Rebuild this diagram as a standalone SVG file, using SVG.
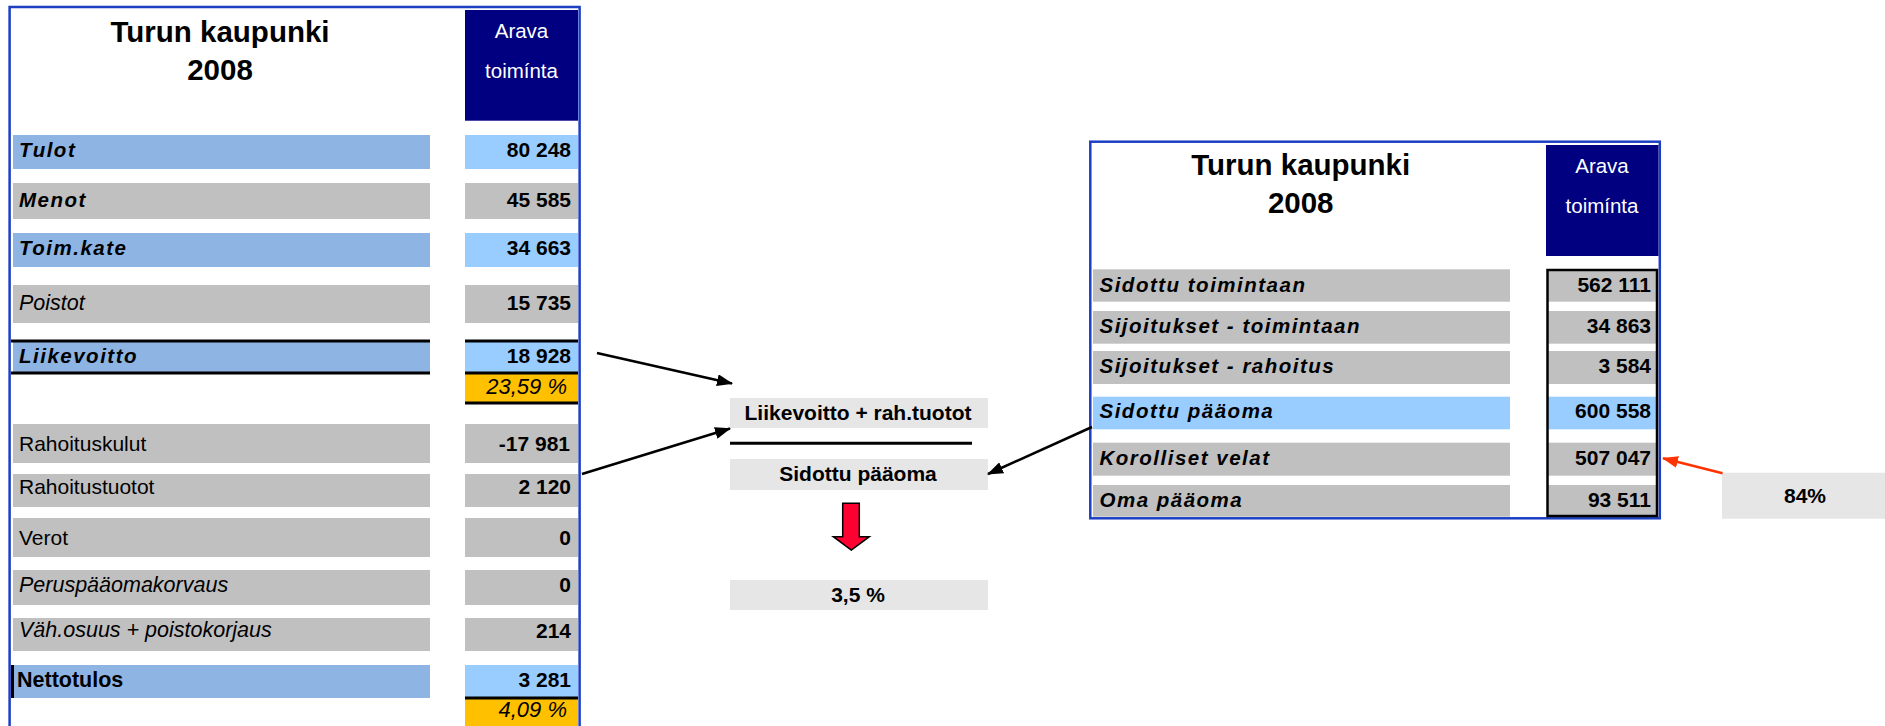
<svg xmlns="http://www.w3.org/2000/svg" width="1885" height="726" viewBox="0 0 1885 726">
<style>
text{font-family:"Liberation Sans",Arial,Helvetica,sans-serif;fill:#000}
.title{font-size:29.5px;font-weight:bold;text-anchor:middle}
.hdr{font-size:20.5px;fill:#fff;text-anchor:middle}
.lbi{font-size:20.5px;font-weight:bold;font-style:italic;letter-spacing:1.5px}
.li{font-size:21.5px;font-style:italic}
.lr{font-size:21px}
.lb{font-size:21.5px;font-weight:bold}
.val{font-size:21px;font-weight:bold;text-anchor:end}
.pct{font-size:22px;font-style:italic;text-anchor:end}
.mid{font-size:21px;font-weight:bold;text-anchor:middle}
.blue{fill:#8EB4E3}
.lblue{fill:#99CCFF}
.gray{fill:#C0C0C0}
.orange{fill:#FFC000}
.lgray{fill:#E6E6E6}
.navy{fill:#000080}
.frame{fill:none;stroke:#1C3FC4;stroke-width:2.5}
.bl{stroke:#000;stroke-width:3}
.conn{stroke:#000;stroke-width:2.5;fill:none}
</style>
<defs>
<marker id="ah" markerUnits="userSpaceOnUse" markerWidth="16" markerHeight="12" refX="15" refY="6" orient="auto">
<path d="M0,0 L16,6 L0,12 Z" fill="#000"/>
</marker>
<marker id="ahr" markerUnits="userSpaceOnUse" markerWidth="16" markerHeight="12" refX="15" refY="6" orient="auto">
<path d="M0,0 L16,6 L0,12 Z" fill="#FF3300"/>
</marker>
</defs>

<g id="left-table">
<rect class="frame" x="9.6" y="7" width="570" height="730"/>
<rect class="navy" x="465" y="10" width="113" height="110.7"/>
<text class="title" x="220" y="41.7">Turun kaupunki</text>
<text class="title" x="220" y="80">2008</text>
<text class="hdr" x="521.5" y="38.3">Arava</text>
<text class="hdr" x="521.5" y="78">toimínta</text>

<g id="row-tulot">
<rect class="blue" x="13" y="135" width="417" height="34"/>
<rect class="lblue" x="465" y="135" width="113" height="34"/>
<text class="lbi" x="19" y="157">Tulot</text>
<text class="val" x="571" y="157">80 248</text>
</g>
<g id="row-menot">
<rect class="gray" x="13" y="183" width="417" height="36"/>
<rect class="gray" x="465" y="183" width="113" height="36"/>
<text class="lbi" x="19" y="207">Menot</text>
<text class="val" x="571" y="207">45 585</text>
</g>
<g id="row-toimkate">
<rect class="blue" x="13" y="233" width="417" height="34"/>
<rect class="lblue" x="465" y="233" width="113" height="34"/>
<text class="lbi" x="19" y="255">Toim.kate</text>
<text class="val" x="571" y="255">34 663</text>
</g>
<g id="row-poistot">
<rect class="gray" x="13" y="285" width="417" height="38"/>
<rect class="gray" x="465" y="285" width="113" height="38"/>
<text class="li" x="19" y="310">Poistot</text>
<text class="val" x="571" y="310">15 735</text>
</g>
<g id="row-liikevoitto">
<rect class="blue" x="13" y="341" width="417" height="32"/>
<rect class="lblue" x="465" y="341" width="113" height="32"/>
<rect class="orange" x="465" y="373" width="113" height="30"/>
<line class="bl" x1="11" y1="341" x2="430" y2="341"/>
<line class="bl" x1="11" y1="373" x2="430" y2="373"/>
<line class="bl" x1="465" y1="341" x2="578" y2="341"/>
<line class="bl" x1="465" y1="373" x2="578" y2="373"/>
<line class="bl" x1="465" y1="403" x2="578" y2="403"/>
<text class="lbi" x="19" y="363">Liikevoitto</text>
<text class="val" x="571" y="362.5">18 928</text>
<text class="pct" x="567" y="393.5">23,59 %</text>
</g>
<g id="row-rahoituskulut">
<rect class="gray" x="13" y="424" width="417" height="39"/>
<rect class="gray" x="465" y="424" width="113" height="39"/>
<text class="lr" x="19" y="450.7">Rahoituskulut</text>
<text class="val" x="570" y="450.7">-17 981</text>
</g>
<g id="row-rahoitustuotot">
<rect class="gray" x="13" y="474" width="417" height="33"/>
<rect class="gray" x="465" y="474" width="113" height="33"/>
<text class="lr" x="19" y="494">Rahoitustuotot</text>
<text class="val" x="571" y="494">2 120</text>
</g>
<g id="row-verot">
<rect class="gray" x="13" y="518" width="417" height="39"/>
<rect class="gray" x="465" y="518" width="113" height="39"/>
<text class="lr" x="19" y="545">Verot</text>
<text class="val" x="571" y="545">0</text>
</g>
<g id="row-peruspaaomakorvaus">
<rect class="gray" x="13" y="570" width="417" height="35"/>
<rect class="gray" x="465" y="570" width="113" height="35"/>
<text class="li" x="19" y="591.7">Peruspääomakorvaus</text>
<text class="val" x="571" y="591.7">0</text>
</g>
<g id="row-vahosuus">
<rect class="gray" x="13" y="618" width="417" height="33"/>
<rect class="gray" x="465" y="618" width="113" height="33"/>
<text class="li" x="19" y="637">Väh.osuus + poistokorjaus</text>
<text class="val" x="571" y="637.5">214</text>
</g>
<g id="row-nettotulos">
<rect class="blue" x="13" y="665" width="417" height="33"/>
<rect class="lblue" x="465" y="665" width="113" height="33"/>
<rect class="orange" x="465" y="698" width="113" height="30"/>
<line class="bl" x1="12.5" y1="665" x2="12.5" y2="698"/>
<line class="bl" x1="465" y1="698" x2="578" y2="698"/>
<text class="lb" x="17" y="687">Nettotulos</text>
<text class="val" x="571" y="686.7">3 281</text>
<text class="pct" x="567" y="716.7">4,09 %</text>
</g>
</g>

<g id="ratio">
<g id="box-numerator">
<rect class="lgray" x="730" y="398" width="258" height="30"/>
<text class="mid" x="858" y="420">Liikevoitto + rah.tuotot</text>
</g>
<line id="fraction-line" x1="730" y1="443.3" x2="972" y2="443.3" stroke="#000" stroke-width="3"/>
<g id="box-denominator">
<rect class="lgray" x="730" y="459" width="258" height="31"/>
<text class="mid" x="858" y="480.7">Sidottu pääoma</text>
</g>
<g id="down-arrow">
<polygon points="842.7,503.3 859.3,503.3 859.3,536.7 869.3,536.7 851.3,550 833.3,536.7 842.7,536.7" fill="#FF0033" stroke="#000" stroke-width="1.5"/>
</g>
<g id="box-result">
<rect class="lgray" x="730" y="580" width="258" height="30"/>
<text class="mid" x="858" y="601.7">3,5 %</text>
</g>
</g>

<g id="right-table">
<rect class="frame" x="1090.3" y="141.7" width="569.5" height="376.6"/>
<rect class="navy" x="1546" y="145" width="112.5" height="111"/>
<text class="title" x="1300.7" y="175">Turun kaupunki</text>
<text class="title" x="1300.7" y="213.3">2008</text>
<text class="hdr" x="1602" y="173.3">Arava</text>
<text class="hdr" x="1602" y="212.7">toimínta</text>

<g id="row-sidottu-toimintaan">
<rect class="gray" x="1093" y="269.3" width="417" height="32.4"/>
<rect class="gray" x="1547" y="269.3" width="110.5" height="32.4"/>
<text class="lbi" x="1099.5" y="291.7">Sidottu toimintaan</text>
<text class="val" x="1651" y="291.7">562 111</text>
</g>
<g id="row-sijoitukset-toimintaan">
<rect class="gray" x="1093" y="311" width="417" height="32.7"/>
<rect class="gray" x="1547" y="311" width="110.5" height="32.7"/>
<text class="lbi" x="1099.5" y="333.3">Sijoitukset - toimintaan</text>
<text class="val" x="1651" y="333.3">34 863</text>
</g>
<g id="row-sijoitukset-rahoitus">
<rect class="gray" x="1093" y="351" width="417" height="33"/>
<rect class="gray" x="1547" y="351" width="110.5" height="33"/>
<text class="lbi" x="1099.5" y="373.3">Sijoitukset - rahoitus</text>
<text class="val" x="1651" y="373.3">3 584</text>
</g>
<g id="row-sidottu-paaoma">
<rect class="lblue" x="1093" y="396.7" width="417" height="32.6"/>
<rect class="lblue" x="1547" y="396.7" width="110.5" height="32.6"/>
<text class="lbi" x="1099.5" y="418.3">Sidottu pääoma</text>
<text class="val" x="1651" y="418.3">600 558</text>
</g>
<g id="row-korolliset-velat">
<rect class="gray" x="1093" y="442.7" width="417" height="33"/>
<rect class="gray" x="1547" y="442.7" width="110.5" height="33"/>
<text class="lbi" x="1099.5" y="465">Korolliset velat</text>
<text class="val" x="1651" y="465">507 047</text>
</g>
<g id="row-oma-paaoma">
<rect class="gray" x="1093" y="485" width="417" height="31.7"/>
<rect class="gray" x="1547" y="485" width="110.5" height="31.7"/>
<text class="lbi" x="1099.5" y="507.3">Oma pääoma</text>
<text class="val" x="1651" y="507.3">93 511</text>
</g>
<rect x="1547.5" y="270" width="109.5" height="246" fill="none" stroke="#000" stroke-width="2.5"/>
</g>

<g id="share-box">
<rect class="lgray" x="1722" y="472.7" width="163" height="46"/>
<text class="mid" x="1805" y="502.7">84%</text>
</g>

<g id="connectors">
<line class="conn" x1="597" y1="353" x2="732" y2="383.5" marker-end="url(#ah)"/>
<line class="conn" x1="582" y1="474" x2="730" y2="428.5" marker-end="url(#ah)"/>
<line class="conn" x1="1092" y1="427" x2="988" y2="474" marker-end="url(#ah)"/>
<line x1="1722.5" y1="473.3" x2="1663" y2="458.3" stroke="#FF3300" stroke-width="2.5" marker-end="url(#ahr)"/>
</g>
</svg>
